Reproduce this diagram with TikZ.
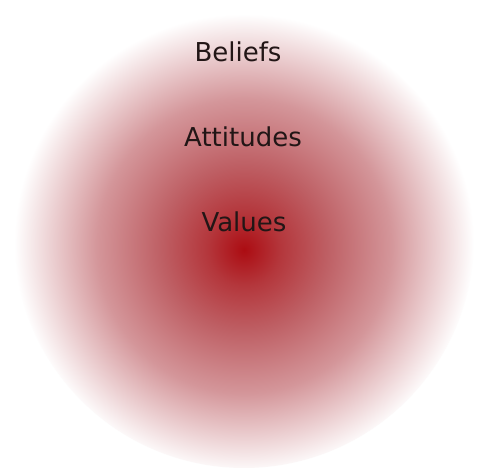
\documentclass[tikz,border=0pt]{standalone}
\usepackage{fontspec}
\setmainfont{DejaVu Sans}
\usepackage{tikz}
\usetikzlibrary{positioning}
\definecolor{Core}{RGB}{172,12,18}
\definecolor{Deep}{RGB}{180,55,60}
\definecolor{Warm}{RGB}{190,95,100}
\definecolor{Soft}{RGB}{212,150,154}
\definecolor{Pale}{RGB}{236,208,210}
\definecolor{Ink}{RGB}{34,22,22}
\pgfdeclareradialshading{glow}{\pgfpoint{0bp}{-1.3bp}}{%
  color(0bp)=(Core); color(4bp)=(Deep); color(9bp)=(Warm);
  color(16bp)=(Soft); color(21bp)=(Pale); color(25bp)=(white);
  color(50bp)=(white)}

\begin{document}
\begin{tikzpicture}[x=1pt,y=1pt, every node/.style={font=\fontsize{26}{30}\selectfont,text=Ink,inner sep=0pt}]
    \useasboundingbox[fill=white] (0,0) rectangle (477,468);
    \shade[shading=glow] (244,230) circle (230);
    \node[anchor=base] (bel) at (238,406) {Beliefs};
    \node[anchor=base] (att) at (243,321) {Attitudes};
    \node[anchor=base] (val) at (244,236) {Values};
  \end{tikzpicture}
\end{document}
